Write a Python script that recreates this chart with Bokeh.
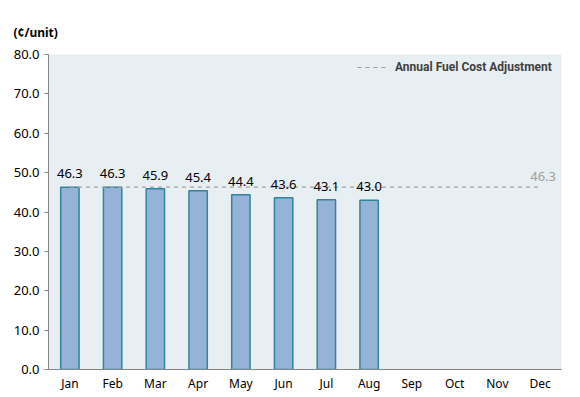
from bokeh.plotting import figure
from bokeh.models import ColumnDataSource, Label, LabelSet, Legend, LegendItem, NumeralTickFormatter, FixedTicker
from bokeh.core.properties import value
from bokeh.embed import file_html
from bokeh.resources import INLINE

months = ["Jan", "Feb", "Mar", "Apr", "May", "Jun", "Jul", "Aug", "Sep", "Oct", "Nov", "Dec"]
bar_months = ["Jan", "Feb", "Mar", "Apr", "May", "Jun", "Jul", "Aug"]
bar_values = [46.3, 46.3, 45.9, 45.4, 44.4, 43.6, 43.1, 43.0]
annual_values = [46.3, 46.3, 46.3, 46.3, 46.3, 46.3, 46.3, 46.3, 46.3, 46.3, 46.3, 46.3]
y_ticks = [0, 10, 20, 30, 40, 50, 60, 70, 80]

p = figure(x_range=months, y_range=(0, 80), width=580, height=397,
           output_backend="svg", toolbar_location=None,
           min_border_left=48, min_border_right=19, min_border_top=54, min_border_bottom=28)
p.background_fill_color = "#E8EFF3"
p.border_fill_color = "white"
p.outline_line_color = None
p.xgrid.grid_line_color = None
p.ygrid.grid_line_color = None

p.title.text = "(¢/unit)"
p.title.align = "left"
p.title.offset = -35
p.title.standoff = 27
p.title.text_font = "Noto Sans"
p.title.text_font_size = "12px"
p.title.text_font_style = "bold"
p.title.text_color = "black"

bars = ColumnDataSource(dict(m=bar_months, v=bar_values, t=["%.1f" % v for v in bar_values]))
p.vbar(x="m", top="v", width=0.43, source=bars, fill_color="#95B3D7",
       line_color="#31849B", line_width=1.5)

p.add_layout(LabelSet(x="m", y="v", text="t", source=bars, text_align="center",
                      text_baseline="alphabetic", y_offset=9, text_font=value("Noto Sans"),
                      text_font_size=value("13px"), text_color="black"))

line = p.line(x=months, y=annual_values, line_color="#A0A0A0", line_width=1.2, line_dash="4 4")

p.add_layout(Label(x=11.5, y=annual_values[-1], text="%.1f" % annual_values[-1], x_offset=3, y_offset=11,
                   text_align="center", text_baseline="alphabetic", text_font="Noto Sans",
                   text_font_size="13px", text_color="#A0A0A0"))

legend = Legend(items=[LegendItem(label="Annual Fuel Cost Adjustment", renderers=[line])],
                location=(309, 292), background_fill_alpha=0, border_line_color=None,
                label_text_font="Roboto", label_text_font_style="bold",
                label_text_font_size="12px", label_text_color="#404040",
                glyph_width=32, margin=0, padding=4, label_standoff=6)
p.add_layout(legend)

p.yaxis.ticker = FixedTicker(ticks=y_ticks)
p.yaxis.formatter = NumeralTickFormatter(format="0.0")
p.yaxis.axis_line_color = "#868686"
p.yaxis.major_tick_line_color = "#868686"
p.yaxis.major_tick_out = 4
p.yaxis.major_tick_in = 0
p.yaxis.minor_tick_line_color = None
p.yaxis.major_label_text_font = "Noto Sans"
p.yaxis.major_label_text_font_size = "13px"
p.yaxis.major_label_text_color = "black"

p.xaxis.axis_line_color = "#868686"
p.xaxis.major_tick_line_color = None
p.xaxis.major_tick_out = 0
p.xaxis.major_tick_in = 0
p.xaxis.minor_tick_line_color = None
p.xaxis.major_label_text_font = "Noto Sans"
p.xaxis.major_label_text_font_size = "12px"
p.xaxis.major_label_text_color = "black"
p.xaxis.major_label_standoff = 5

open("out.html", "w").write(file_html(p, INLINE))
